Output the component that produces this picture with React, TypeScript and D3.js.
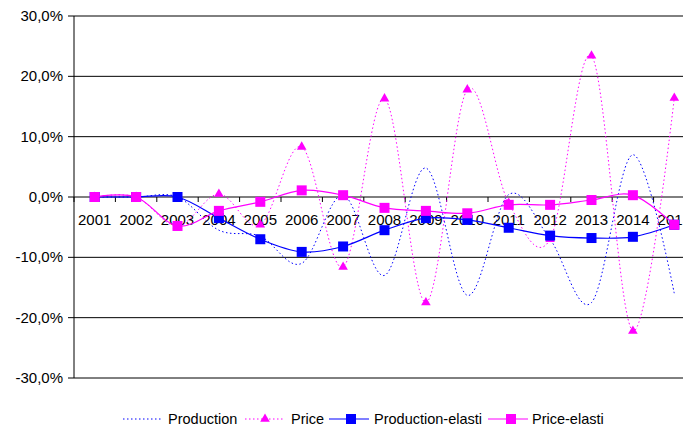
import React from 'react'
import * as d3 from 'd3'

const width = 683
const height = 430

const years = ['2001', '2002', '2003', '2004', '2005', '2006', '2007', '2008', '2009', '2010', '2011', '2012', '2013', '2014', '2015']
const production = [0, 0, 0, -5.5, -6.5, -11, 0.3, -13, 4.8, -16.3, 0.4, -7, -17.5, 7, -16]
const price = [0, 0, -4.8, 0.5, -4.6, 8.3, -11.6, 16.3, -17.5, 17.8, -1, -7, 23.4, -22.2, 16.4]
const productionElasti = [0, 0, 0, -3.5, -7, -9.1, -8.2, -5.5, -3.5, -3.8, -5.1, -6.4, -6.8, -6.6, -4.6]
const priceElasti = [0, 0, -4.8, -2.3, -0.8, 1.1, 0.3, -1.8, -2.3, -2.7, -1.3, -1.3, -0.5, 0.3, -4.6]
const yTicks = [30, 20, 10, 0, -10, -20, -30]

const blue = '#0000FF'
const magenta = '#FF00FF'
const font = 'Liberation Sans, Arial, sans-serif'

const x = d3.scaleBand<string>().domain(years).range([74, 695])
const y = d3.scaleLinear().domain([-30, 30]).range([378, 16])
const cx = (yr: string) => (x(yr) as number) + x.bandwidth() / 2

const lineFn = d3.line<number>()
  .x((_, i) => cx(years[i]))
  .y(v => y(v))
  .curve(d3.curveCardinal.tension(0))

const fmt = (v: number) => v.toFixed(1).replace('.', ',') + '%'

const triangle = d3.symbol().type(d3.symbolTriangle).size(40)

function Square({ px, py, color }: { px: number, py: number, color: string }) {
  return <rect x={px - 5} y={py - 5} width={10} height={10} fill={color} />
}

function Triangle({ px, py, color }: { px: number, py: number, color: string }) {
  return <path d={triangle() as string} transform={`translate(${px},${py})`} fill={color} />
}

export default function App() {
  return (
    <svg width={width} height={height} style={{ position: 'absolute', left: 0, top: 0, background: '#fff' }} fontFamily={font}>
      {/* gridlines and y axis */}
      {yTicks.map(t => (
        <g key={t}>
          <line x1={68} x2={width} y1={y(t)} y2={y(t)} stroke="#000" strokeWidth={1} />
          <text x={63} y={y(t) + 5} textAnchor="end" fontSize={15}>{fmt(t)}</text>
        </g>
      ))}
      <line x1={74} x2={74} y1={y(30)} y2={y(-30)} stroke="#000" />
      {/* category ticks on zero line */}
      {years.map(yr => (
        <line key={'t' + yr} x1={x(yr) as number} x2={x(yr) as number} y1={y(0)} y2={y(0) + 5} stroke="#000" />
      ))}
      {years.map(yr => (
        <text key={'l' + yr} x={cx(yr)} y={y(0) + 28} textAnchor="middle" fontSize={15}>{yr}</text>
      ))}

      {/* series */}
      <path d={lineFn(production) as string} fill="none" stroke={blue} strokeWidth={1} strokeDasharray="1.5,2.5" />
      <path d={lineFn(price) as string} fill="none" stroke={magenta} strokeWidth={1} strokeDasharray="1.5,2.5" />
      {price.map((v, i) => <Triangle key={'p' + i} px={cx(years[i])} py={y(v)} color={magenta} />)}
      <path d={lineFn(productionElasti) as string} fill="none" stroke={blue} strokeWidth={1.2} />
      {productionElasti.map((v, i) => <Square key={'pe' + i} px={cx(years[i])} py={y(v)} color={blue} />)}
      <path d={lineFn(priceElasti) as string} fill="none" stroke={magenta} strokeWidth={1.2} />
      {priceElasti.map((v, i) => <Square key={'pr' + i} px={cx(years[i])} py={y(v)} color={magenta} />)}

      {/* legend */}
      <g fontSize={14.5}>
        <line x1={123} x2={162} y1={419} y2={419} stroke={blue} strokeDasharray="1.5,2.5" />
        <text x={168} y={424}>Production</text>
        <line x1={245} x2={285} y1={419} y2={419} stroke={magenta} strokeDasharray="1.5,2.5" />
        <Triangle px={265} py={419} color={magenta} />
        <text x={291} y={424}>Price</text>
        <line x1={329} x2={369} y1={419} y2={419} stroke={blue} strokeWidth={1.2} />
        <Square px={351} py={419} color={blue} />
        <text x={374} y={424}>Production-elasti</text>
        <line x1={488} x2={528} y1={419} y2={419} stroke={magenta} strokeWidth={1.2} />
        <Square px={511} py={419} color={magenta} />
        <text x={532} y={424}>Price-elasti</text>
      </g>
    </svg>
  )
}
